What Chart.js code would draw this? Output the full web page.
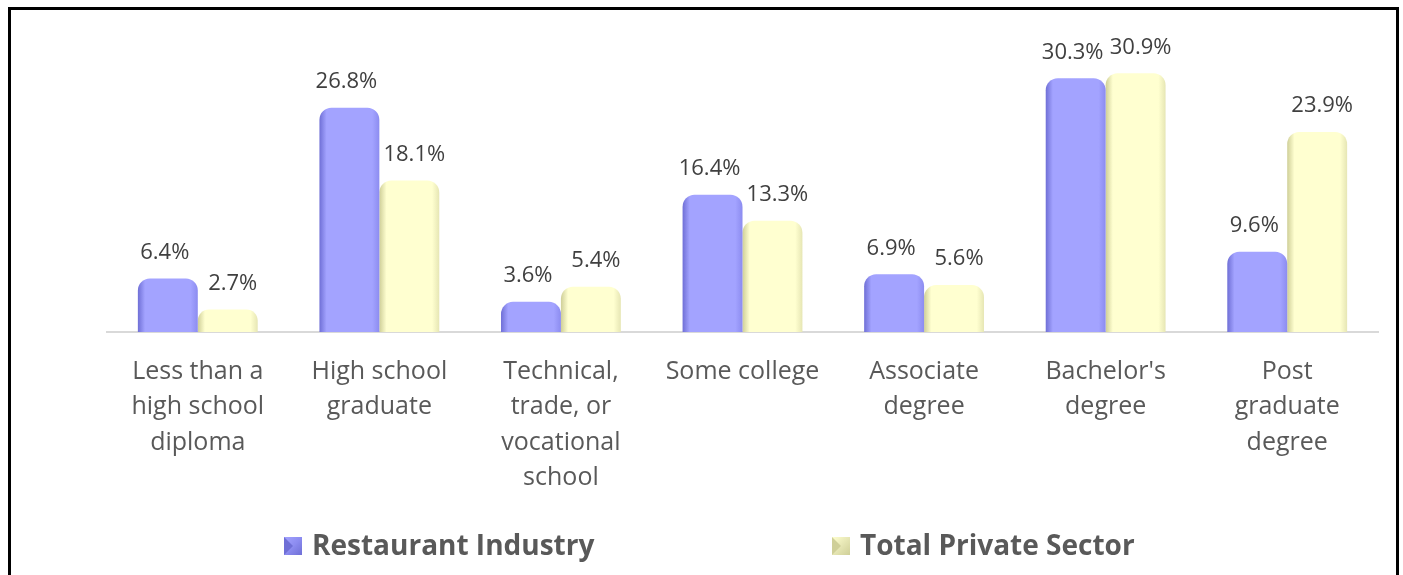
<!DOCTYPE html>
<html>
<head>
<meta charset="utf-8">
<script src="https://cdn.jsdelivr.net/npm/chart.js@4.4.0/dist/chart.umd.min.js"></script>
<style>
  html, body { margin: 0; padding: 0; background: #fff; }
  #wrap { position: absolute; left: 0; top: 0; width: 1403px; height: 575px; }
  #frame {
    position: absolute; left: 8px; top: 7px; width: 1391px; height: 600px;
    box-sizing: border-box; border: 3px solid #000; border-bottom: none;
  }
</style>
</head>
<body>
<div id="wrap">
  <canvas id="eduChart" width="1403" height="575"></canvas>
</div>
<div id="frame"></div>
<script>
// categories (wrapped the way the reference wraps them)
const categories = [
  ['Less than a', 'high school', 'diploma'],
  ['High school', 'graduate'],
  ['Technical,', 'trade, or', 'vocational', 'school'],
  ['Some college'],
  ['Associate', 'degree'],
  ["Bachelor's", 'degree'],
  ['Post', 'graduate', 'degree']
];
const restaurantValues = [6.4, 26.8, 3.6, 16.4, 6.9, 30.3, 9.6];
const privateValues = [2.7, 18.1, 5.4, 13.3, 5.6, 30.9, 23.9];
const seriesNames = ['Restaurant Industry', 'Total Private Sector'];

const CAT_PCT = 0.66;

// colour ramps for the shaded bars: edge, light, edge
const shades = [
  ['#6f6fd6', '#a3a3ff', '#8c8cf0'],
  ['#cfcf98', '#ffffd0', '#e6e6b4']
];

// horizontal gradient over one bar, worked out from the x scale
function barFill(ctx) {
  const chart = ctx.chart;
  const s = shades[ctx.datasetIndex];
  const xs = chart.scales.x;
  if (!xs || ctx.dataIndex === undefined || !chart.chartArea) return s[1];
  const catW = xs.width / categories.length;
  const barW = catW * CAT_PCT / 2;
  const center = xs.getPixelForValue(ctx.dataIndex) + (ctx.datasetIndex - 0.5) * barW;
  const left = center - barW / 2;
  const g = chart.ctx.createLinearGradient(left, 0, left + barW, 0);
  g.addColorStop(0, s[0]);
  g.addColorStop(0.12, s[1]);
  g.addColorStop(0.88, s[1]);
  g.addColorStop(1, s[2]);
  return g;
}

// value labels above each bar
const valueLabels = {
  id: 'valueLabels',
  afterDatasetsDraw(chart) {
    const c = chart.ctx;
    const nudge = [-3, 5];
    c.save();
    c.font = '22px "Open Sans"';
    c.fillStyle = '#404040';
    c.textAlign = 'center';
    c.textBaseline = 'middle';
    chart.data.datasets.forEach((ds, di) => {
      chart.getDatasetMeta(di).data.forEach((bar, i) => {
        c.fillText(ds.data[i].toFixed(1) + '%', bar.x + nudge[di], bar.y - 26);
      });
    });
    c.restore();
  }
};

// legend drawn at the bottom, spread like the reference
const spreadLegend = {
  id: 'spreadLegend',
  afterDraw(chart) {
    const c = chart.ctx;
    const startX = [284, 832];
    const y = 546;
    c.save();
    c.font = 'bold 28px "Open Sans"';
    c.textBaseline = 'middle';
    chart.data.datasets.forEach((ds, di) => {
      const x = startX[di];
      const s = shades[di];
      const g = c.createLinearGradient(x, y - 9, x + 18, y + 9);
      g.addColorStop(0, s[1]);
      g.addColorStop(0.5, s[2]);
      g.addColorStop(1, s[0]);
      c.fillStyle = g;
      c.fillRect(x, y - 9, 18, 18);
      c.fillStyle = s[0];
      c.beginPath();
      c.moveTo(x, y - 9); c.lineTo(x + 9, y); c.lineTo(x, y + 9); c.closePath();
      c.fill();
      c.fillStyle = '#595959';
      c.fillText(ds.label, x + 28, y + 1);
    });
    c.restore();
  }
};

const chartData = {
  labels: categories,
  datasets: [
    {
      label: seriesNames[0],
      data: restaurantValues,
      backgroundColor: barFill,
      borderRadius: { topLeft: 12, topRight: 12 },
      borderSkipped: 'bottom',
      barPercentage: 1,
      categoryPercentage: CAT_PCT
    },
    {
      label: seriesNames[1],
      data: privateValues,
      backgroundColor: barFill,
      borderRadius: { topLeft: 12, topRight: 12 },
      borderSkipped: 'bottom',
      barPercentage: 1,
      categoryPercentage: CAT_PCT
    }
  ]
};

const ctx = document.getElementById('eduChart').getContext('2d');
const chart = new Chart(ctx, {
  type: 'bar',
  data: chartData,
  plugins: [valueLabels, spreadLegend],
  options: {
    responsive: false,
    animation: false,
    layout: { padding: { left: 107, right: 25, top: 39, bottom: 65 } },
    plugins: {
      legend: { display: false },
      tooltip: { enabled: false }
    },
    scales: {
      y: { display: false, min: 0, max: 35 },
      x: {
        grid: { display: false },
        border: { display: true, color: '#d9d9d9', width: 2 },
        ticks: {
          color: '#595959',
          font: { family: 'Open Sans', size: 25, lineHeight: 1.42 },
          padding: 14,
          maxRotation: 0,
          autoSkip: false
        }
      }
    }
  }
});
</script>
</body>
</html>
